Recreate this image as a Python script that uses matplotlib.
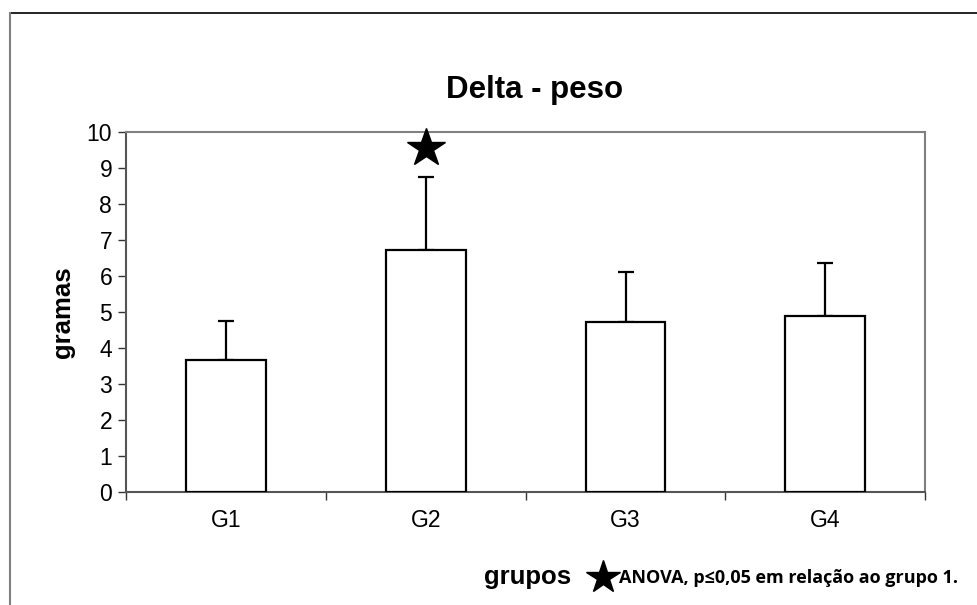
import matplotlib
matplotlib.use("Agg")
import matplotlib.pyplot as plt
from matplotlib.lines import Line2D

plt.rcParams['font.family'] = ['Liberation Sans', 'DejaVu Sans']

grupos = ['G1', 'G2', 'G3', 'G4']
medias = [3.66, 6.73, 4.72, 4.89]
erros = [1.09, 2.00, 1.38, 1.47]
estrela_grupo = 1
estrela_y = 9.55

fig = plt.figure(figsize=(9.77, 6.05), dpi=100)
ax = fig.add_axes([0.129, 0.1868, 0.818, 0.5955])

x = list(range(len(grupos)))
ax.bar(x, medias, width=0.4, color='white', edgecolor='black', linewidth=1.6, zorder=3)
ax.errorbar(x, medias, yerr=[[0] * len(erros), erros], fmt='none', ecolor='black',
            elinewidth=1.6, capsize=6, capthick=1.6, zorder=2)

# marca de significancia
ax.plot([estrela_grupo], [estrela_y], marker='*', color='black', markersize=29,
        linestyle='none', clip_on=False, zorder=5)

ax.set_xlim(-0.5, len(grupos) - 0.5)
ax.set_ylim(0, 10)
ax.set_yticks(range(0, 11))
ax.set_xticks([i + 0.5 for i in range(-1, len(grupos))], minor=False)
ax.set_xticklabels([])
ax.set_xticks(x, minor=True)
ax.set_xticklabels(grupos, minor=True)
ax.tick_params(axis='x', which='minor', length=0, labelsize=16.5, pad=12)
ax.tick_params(axis='x', which='major', length=6, width=1, color='#333333', direction='out')
ax.tick_params(axis='y', length=6, width=1, color='#333333', direction='out', labelsize=16.5, pad=4)

for s in ['top', 'right']:
    ax.spines[s].set_color('#808080')
    ax.spines[s].set_linewidth(1.5)
for s in ['left', 'bottom']:
    ax.spines[s].set_color('#555555')
    ax.spines[s].set_linewidth(1.5)

ax.set_title('Delta - peso', fontsize=22.5, fontweight='bold', x=0.511, pad=24)
ax.set_ylabel('gramas', fontsize=18.5, fontweight='bold')
ax.yaxis.set_label_coords(-0.064, 0.5)

fig.text(0.540, 0.046, 'grupos', fontsize=18.5, fontweight='bold', ha='center', va='center')
fig.add_artist(Line2D([0.617], [0.047], marker='*', color='black', markersize=25,
                      transform=fig.transFigure, linestyle='none'))
fig.text(0.634, 0.044, 'ANOVA, p≤0,05 em relação ao grupo 1.', fontsize=13,
         fontweight='bold', family=['Open Sans', 'DejaVu Sans'], ha='left', va='center')

# moldura externa
fig.add_artist(Line2D([0.0102, 1.0], [0.9785, 0.9785], color='black', linewidth=1.2,
                      transform=fig.transFigure))
fig.add_artist(Line2D([0.0102, 0.0102], [0.0, 0.9785], color='#808080', linewidth=1.5,
                      transform=fig.transFigure))

fig.savefig('out.png', dpi=100)
